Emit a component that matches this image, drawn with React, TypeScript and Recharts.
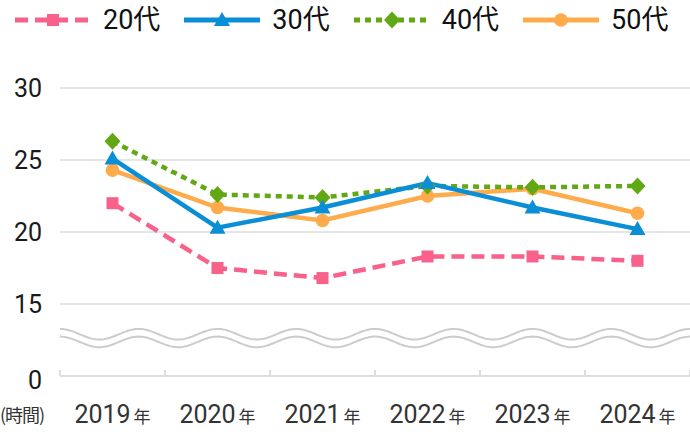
import React from 'react';
import { LineChart, Line, XAxis, YAxis, CartesianGrid, ReferenceArea } from 'recharts';

// 年ごとの平均時間（縦軸は15の下で省略、最下段は0）
const YEARS = ['2019', '2020', '2021', '2022', '2023', '2024'];
const AGE_20 = [22.0, 17.5, 16.8, 18.3, 18.3, 18.0];
const AGE_30 = [25.1, 20.3, 21.7, 23.4, 21.7, 20.2];
const AGE_40 = [26.3, 22.6, 22.4, 23.2, 23.1, 23.2];
const AGE_50 = [24.3, 21.7, 20.8, 22.5, 23.0, 21.3];

// 10 の位置に「0」を表示（軸の省略）
const Y_TICKS = [10, 15, 20, 25, 30];
const Y_TICK_LABELS: Record<number, string> = { 10: '0', 15: '15', 20: '20', 25: '25', 30: '30' };
const BREAK_FROM = 12.0;
const BREAK_TO = 13.27;

const UNIT_LABEL = '(時間)';
const YEAR_SUFFIX = '年';

type MarkerShape = 'square' | 'triangle' | 'diamond' | 'circle';

interface SeriesDef {
  key: string;
  name: string;
  color: string;
  dash?: string;
  shape: MarkerShape;
}

// 描画順（奥 → 手前）
const SERIES: SeriesDef[] = [
  { key: 'a20', name: '20代', color: '#f7618a', dash: '13 7', shape: 'square' },
  { key: 'a50', name: '50代', color: '#fdab4b', shape: 'circle' },
  { key: 'a40', name: '40代', color: '#62a814', dash: '6 5', shape: 'diamond' },
  { key: 'a30', name: '30代', color: '#0a8fd6', shape: 'triangle' },
];
const LEGEND_ORDER = ['a20', 'a30', 'a40', 'a50'];

const chartData = YEARS.map((year, i) => ({
  year,
  a20: AGE_20[i],
  a30: AGE_30[i],
  a40: AGE_40[i],
  a50: AGE_50[i],
}));

const FONT = 'Roboto, "Noto Sans CJK JP", sans-serif';
const FONT_JP = '"Noto Sans CJK JP", sans-serif';

function Marker({ cx, cy, shape, color }: { cx: number; cy: number; shape: MarkerShape; color: string }) {
  if (cx == null || cy == null) return null;
  switch (shape) {
    case 'square':
      return <rect x={cx - 6} y={cy - 6} width={12} height={12} fill={color} />;
    case 'triangle':
      return <polygon points={`${cx},${cy - 8} ${cx + 8},${cy + 6} ${cx - 8},${cy + 6}`} fill={color} />;
    case 'diamond':
      return <polygon points={`${cx},${cy - 8.5} ${cx + 8},${cy} ${cx},${cy + 8.5} ${cx - 8},${cy}`} fill={color} />;
    default:
      return <circle cx={cx} cy={cy} r={6.8} fill={color} />;
  }
}

// 省略記号の波線（2本）
function BreakWave(props: any) {
  const { x, y, width, height } = props;
  const amp = 5.3;
  const period = width / 8;
  const build = (center: number) => {
    let d = '';
    for (let px = 0; px <= width; px += 2) {
      const yy = center - amp * Math.cos((2 * Math.PI * px) / period);
      d += `${px === 0 ? 'M' : 'L'}${x + px},${yy.toFixed(2)}`;
    }
    return d;
  };
  return (
    <g>
      <path d={build(y + amp)} fill="none" stroke="#cccccc" strokeWidth={2} />
      <path d={build(y + height - amp)} fill="none" stroke="#cccccc" strokeWidth={2} />
    </g>
  );
}

function YearTick(props: any) {
  const { x, y, payload, index, visibleTicksCount, width } = props;
  const half = width / (visibleTicksCount || YEARS.length) / 2;
  const last = index === visibleTicksCount - 1;
  return (
    <g>
      <line x1={x - half} x2={x - half} y1={y} y2={y - 6} stroke="#dddddd" strokeWidth={2} />
      {last && <line x1={x + half} x2={x + half} y1={y} y2={y - 6} stroke="#dddddd" strokeWidth={2} />}
      <text x={x} y={y + 47} textAnchor="middle" fill="#333333">
        <tspan fontFamily={FONT} fontSize={25}>{payload.value}</tspan>
        <tspan fontFamily={FONT_JP} fontSize={17} dx={3}>{YEAR_SUFFIX}</tspan>
      </text>
    </g>
  );
}

function ValueTick(props: any) {
  const { x, y, payload } = props;
  const shift = payload.value === Y_TICKS[0] ? 4 : 0;
  return (
    <text x={x} y={y + 9 + shift} textAnchor="end" fill="#1a1a1a" fontFamily={FONT} fontSize={25}>
      {Y_TICK_LABELS[payload.value]}
    </text>
  );
}

function UnitLabel(props: any) {
  const { viewBox } = props;
  return (
    <text x={viewBox.x} y={viewBox.y + viewBox.height + 46} fill="#333333" fontFamily={FONT_JP} fontSize={18} letterSpacing={-1}>
      {UNIT_LABEL}
    </text>
  );
}

function LegendRow() {
  return (
    <div style={{ position: 'absolute', top: 0, left: 13, display: 'flex', alignItems: 'center', height: 40, whiteSpace: 'nowrap' }}>
      {LEGEND_ORDER.map((k) => {
        const s = SERIES.find((d) => d.key === k)!;
        return (
          <div key={k} style={{ display: 'flex', alignItems: 'center', marginRight: 22, flexShrink: 0 }}>
            <svg width={80} height={40} style={{ flexShrink: 0 }}>
              <line x1={2} x2={78} y1={20} y2={20} stroke={s.color} strokeWidth={5} strokeDasharray={s.dash} />
              <Marker cx={40} cy={20} shape={s.shape} color={s.color} />
            </svg>
            <span style={{ marginLeft: 10, fontFamily: FONT, fontSize: 27, color: '#111111', lineHeight: '40px', whiteSpace: 'nowrap' }}>
              {s.name}
            </span>
          </div>
        );
      })}
    </div>
  );
}

export default function App() {
  return (
    <div style={{ position: 'relative', width: 690, height: 436, background: '#ffffff' }}>
      <style>{'body{margin:0}'}</style>
      <LegendRow />
      <LineChart width={690} height={436} data={chartData} margin={{ top: 88, right: 0, left: 0, bottom: 0 }}>
        <CartesianGrid vertical={false} stroke="#e6e6e6" strokeWidth={2} />
        <ReferenceArea y1={BREAK_FROM} y2={BREAK_TO} shape={(p: any) => <BreakWave {...p} />} />
        <XAxis
          dataKey="year"
          scale="band"
          height={60}
          axisLine={{ stroke: '#dddddd', strokeWidth: 2 }}
          tickLine={false}
          tickSize={0}
          tickMargin={0}
          tick={<YearTick />}
          interval={0}
        />
        <YAxis
          width={60}
          domain={[10, 30]}
          ticks={Y_TICKS}
          axisLine={false}
          tickLine={false}
          tickSize={0}
          tickMargin={18}
          tick={<ValueTick />}
          interval={0}
          label={<UnitLabel />}
        />
        {SERIES.map((s) => (
          <Line
            key={s.key}
            dataKey={s.key}
            name={s.name}
            type="linear"
            stroke={s.color}
            strokeWidth={4.5}
            strokeDasharray={s.dash}
            dot={(p: any) => <Marker key={`${s.key}-${p.index}`} cx={p.cx} cy={p.cy} shape={s.shape} color={s.color} />}
            activeDot={false}
            isAnimationActive={false}
          />
        ))}
      </LineChart>
    </div>
  );
}
